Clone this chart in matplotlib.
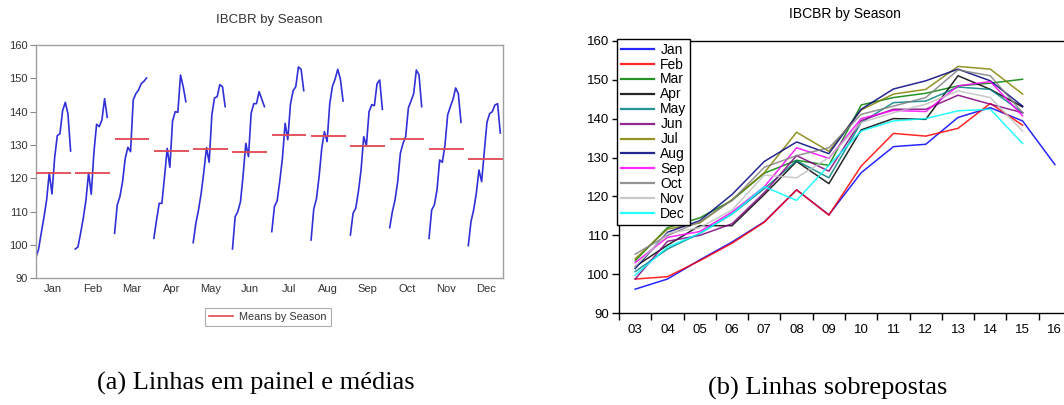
import matplotlib
matplotlib.use("Agg")
import matplotlib.pyplot as plt
from matplotlib.lines import Line2D
import numpy as np

plt.rcParams['font.family'] = ['Liberation Sans', 'DejaVu Sans']

# IBCBR index, one list per calendar month, years 2003 onwards
years = ["03", "04", "05", "06", "07", "08", "09", "10", "11", "12", "13", "14", "15", "16"]
months = ["Jan", "Feb", "Mar", "Apr", "May", "Jun", "Jul", "Aug", "Sep", "Oct", "Nov", "Dec"]

jan = [96.2, 98.8, 103.7, 108.3, 113.5, 121.7, 115.3, 126.1, 132.8, 133.4, 140.3, 142.8, 139.4, 128.2]
feb = [98.8, 99.4, 103.5, 108.0, 113.4, 121.7, 115.2, 127.8, 136.2, 135.5, 137.5, 143.9, 138.3]
mar = [103.5, 112.0, 114.5, 119.0, 126.0, 129.3, 128.0, 143.5, 145.4, 146.5, 148.4, 149.1, 150.1]
apr = [102.0, 107.5, 112.5, 112.5, 120.5, 129.0, 123.3, 137.1, 140.0, 139.8, 151.0, 147.5, 143.0]
may = [100.7, 106.5, 110.5, 115.5, 122.0, 129.2, 124.8, 139.0, 144.1, 144.5, 148.1, 147.5, 141.5]
jun = [98.8, 108.5, 110.0, 113.0, 121.0, 130.5, 126.5, 139.5, 142.4, 142.4, 146.0, 143.7, 141.5]
jul = [104.0, 111.6, 113.2, 119.2, 126.1, 136.5, 131.6, 142.2, 146.3, 147.5, 153.4, 152.7, 146.3]
aug = [101.5, 110.8, 113.8, 120.5, 129.0, 134.0, 131.0, 142.4, 147.6, 149.7, 152.7, 149.7, 143.2]
sep = [103.0, 109.5, 111.0, 116.0, 122.5, 132.5, 129.8, 140.0, 142.1, 141.8, 148.4, 149.5, 140.7]
oct_ = [105.2, 110.0, 113.5, 119.0, 127.5, 130.5, 132.5, 141.1, 143.2, 145.4, 152.5, 151.0, 141.5]
nov = [102.0, 110.5, 112.0, 116.5, 125.5, 124.8, 130.0, 139.0, 141.5, 143.7, 147.1, 145.4, 136.8]
dec = [99.8, 107.0, 110.5, 115.5, 122.5, 119.0, 128.0, 136.8, 139.4, 140.0, 142.0, 142.4, 133.6]

series = [jan, feb, mar, apr, may, jun, jul, aug, sep, oct_, nov, dec]
colors = ["#0000ff", "#ff0000", "#008000", "#000000", "#008080", "#800080",
          "#808000", "#000080", "#ff00ff", "#808080", "#c0c0c0", "#00ffff"]

fig = plt.figure(figsize=(10.64, 4.05), dpi=100)

# ---- left: one panel per month with the seasonal mean ----
axL = fig.add_axes([0.0338, 0.3128, 0.4389, 0.5761])
slot = 14.75
for m, vals in enumerate(series):
    x = m * slot + np.arange(len(vals))
    axL.plot(x, vals, color="#3030d8", lw=1.2)
    axL.hlines(np.mean(vals), m * slot, m * slot + 13, color="#e04850", lw=1.3, zorder=3)
axL.set_xlim(0, 11 * slot + 13)
axL.set_ylim(90, 160)
axL.set_yticks(range(90, 161, 10))
axL.set_xticks([m * slot + 6.5 for m in range(12)])
axL.set_xticklabels(months)
axL.tick_params(axis="x", length=0, pad=4, labelsize=8, labelcolor="#333333")
axL.tick_params(axis="y", length=4, width=0.8, color="#888888", pad=2,
                labelsize=8, labelcolor="#333333")
for s in axL.spines.values():
    s.set_color("#a0a0a0")
    s.set_linewidth(1.0)
fig.text(269.5 / 1064, 1 - 20 / 405, "IBCBR by Season", ha="center", va="center",
         fontsize=9.5, color="#333333")
legL = fig.legend([Line2D([], [], color="#e04850", lw=1.2)], ["Means by Season"],
                  loc="center", bbox_to_anchor=(268 / 1064, 1 - 317 / 405),
                  fontsize=7.8, frameon=True, fancybox=False, handlelength=2.2,
                  borderpad=0.35, handletextpad=0.6)
legL.get_frame().set_edgecolor("#999999")
legL.get_frame().set_linewidth(0.8)
for t in legL.get_texts():
    t.set_color("#333333")

# ---- right: all months overlaid by year ----
axR = fig.add_axes([0.5818, 0.2264, 0.4248, 0.6731])
for name, vals, c in zip(months, series, colors):
    axR.plot(np.arange(len(vals)), vals, color=c, lw=1.1, alpha=0.85, label=name)
axR.set_xlim(-0.5, 13.5)
axR.set_ylim(90, 160)
axR.set_yticks(range(90, 161, 10))
axR.set_xticks(np.arange(-0.5, 13.6, 1))
axR.set_xticklabels([])
axR.set_xticks(np.arange(len(years)), minor=True)
axR.set_xticklabels(years, minor=True)
axR.tick_params(axis="x", which="major", length=5, width=1, direction="out")
axR.tick_params(axis="x", which="minor", length=0, pad=8, labelsize=9.5)
axR.tick_params(axis="y", length=5, width=1, pad=2, labelsize=9.5)
for s in axR.spines.values():
    s.set_color("black")
    s.set_linewidth(1.0)
fig.text(845 / 1064, 1 - 14 / 405, "IBCBR by Season", ha="center", va="center",
         fontsize=10)
legR = axR.legend(loc="upper left", bbox_to_anchor=(-0.004, 1.006), borderaxespad=0,
                  fontsize=10, frameon=True, fancybox=False, framealpha=1,
                  handlelength=2.4, handletextpad=0.45, labelspacing=0.07,
                  borderpad=0.25)
legR.get_frame().set_edgecolor("black")
legR.get_frame().set_linewidth(1.0)
for h in legR.get_lines():
    h.set_linewidth(1.6)

# ---- captions ----
fig.text(256 / 1064, 1 - 383 / 405, "(a) Linhas em painel e médias", ha="center",
         va="center", fontsize=19, family="Liberation Serif")
fig.text(828 / 1064, 1 - 388 / 405, "(b) Linhas sobrepostas", ha="center",
         va="center", fontsize=19, family="Liberation Serif")

fig.savefig("out.png", dpi=100)
